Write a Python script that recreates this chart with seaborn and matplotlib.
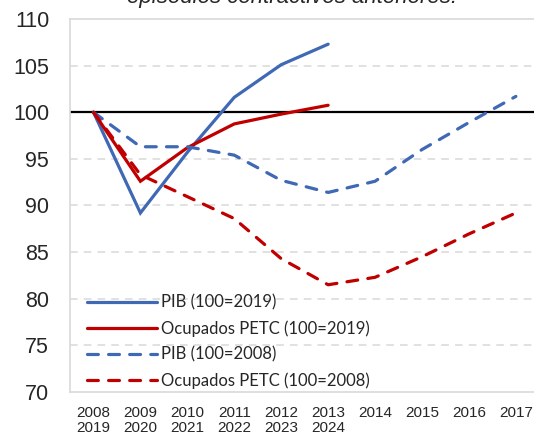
import matplotlib
matplotlib.use("Agg")
import matplotlib.pyplot as plt
import seaborn as sns
import pandas as pd

# años del eje (dos episodios superpuestos)
years_2008 = [2008, 2009, 2010, 2011, 2012, 2013, 2014, 2015, 2016, 2017]
years_2019 = [2019, 2020, 2021, 2022, 2023, 2024]

# series (índices)
pib_2019 = [100, 89.2, 95.7, 101.6, 105.1, 107.3]
ocup_2019 = [100, 92.6, 96.2, 98.75, 99.8, 100.75]
pib_2008 = [100, 96.3, 96.3, 95.4, 92.7, 91.4, 92.6, 96.0, 98.9, 101.7]
ocup_2008 = [100, 93.3, 90.95, 88.6, 84.3, 81.5, 82.3, 84.5, 86.95, 89.2]

labels = ["PIB (100=2019)", "Ocupados PETC (100=2019)",
          "PIB (100=2008)", "Ocupados PETC (100=2008)"]

blue = "#3F68B5"
red = "#C00000"

sns.set_style("white")
plt.rcParams["font.family"] = ["Liberation Sans", "DejaVu Sans"]

fig = plt.figure(figsize=(5.34, 4.37), dpi=100)
ax = fig.add_axes([70 / 534, 45 / 437, 1 - 70 / 534 + 0.01, 373 / 437])

series = [(pib_2019, blue, "-"), (ocup_2019, red, "-"),
          (pib_2008, blue, "--"), (ocup_2008, red, "--")]
for (vals, col, ls), lab in zip(series, labels):
    df = pd.DataFrame({"x": range(len(vals)), "y": vals})
    sns.lineplot(data=df, x="x", y="y", color=col, linewidth=2.3,
                 label=lab, ax=ax, zorder=3)
    line = ax.lines[-1]
    line.set_solid_capstyle("round")
    line.set_solid_joinstyle("miter")
    if ls == "--":
        line.set_dashes((3.4, 3.2))
        line.set_dash_capstyle("round")

# rejilla y línea de 100
for v in [75, 80, 85, 90, 95, 105]:
    ax.axhline(v, color="#D9D9D9", lw=1.1, dashes=(5, 4), zorder=1)
ax.axhline(100, color="black", lw=1.6, zorder=2)

ax.set_xlim(-0.5, 9.5)
ax.set_ylim(70, 110)
ax.set_yticks(range(70, 111, 5))
ax.set_xticks(range(len(years_2008)))
xlabs = []
for i, a in enumerate(years_2008):
    if i < len(years_2019):
        xlabs.append(f"{a}\n{years_2019[i]}")
    else:
        xlabs.append(f"{a}")
ax.set_xticklabels(xlabs, fontsize=11, linespacing=1.1, va="top")
ax.tick_params(axis="y", labelsize=15.5, length=0, pad=15)
ax.tick_params(axis="x", length=0, pad=10)
ax.set_xlabel("")
ax.set_ylabel("")

for s in ["left", "top", "bottom"]:
    ax.spines[s].set_color("#D9D9D9")
    ax.spines[s].set_linewidth(1.2)
ax.spines["right"].set_visible(False)

leg = ax.legend(loc="lower left", bbox_to_anchor=(0.03, 0.0), frameon=False,
                prop={"family": "Lato", "size": 12}, handlelength=4.2,
                handletextpad=0.2, labelspacing=0.57, borderpad=0.2,
                borderaxespad=0)
for h in leg.get_lines():
    h.set_linewidth(2.3)

# título recortado por arriba, como en el original
fig.text(292 / 534, 1 - 3 / 437, "episodios contractivos anteriores.",
         ha="center", va="baseline", fontsize=16, style="italic",
         weight="medium")

fig.savefig("out.png", dpi=100)
